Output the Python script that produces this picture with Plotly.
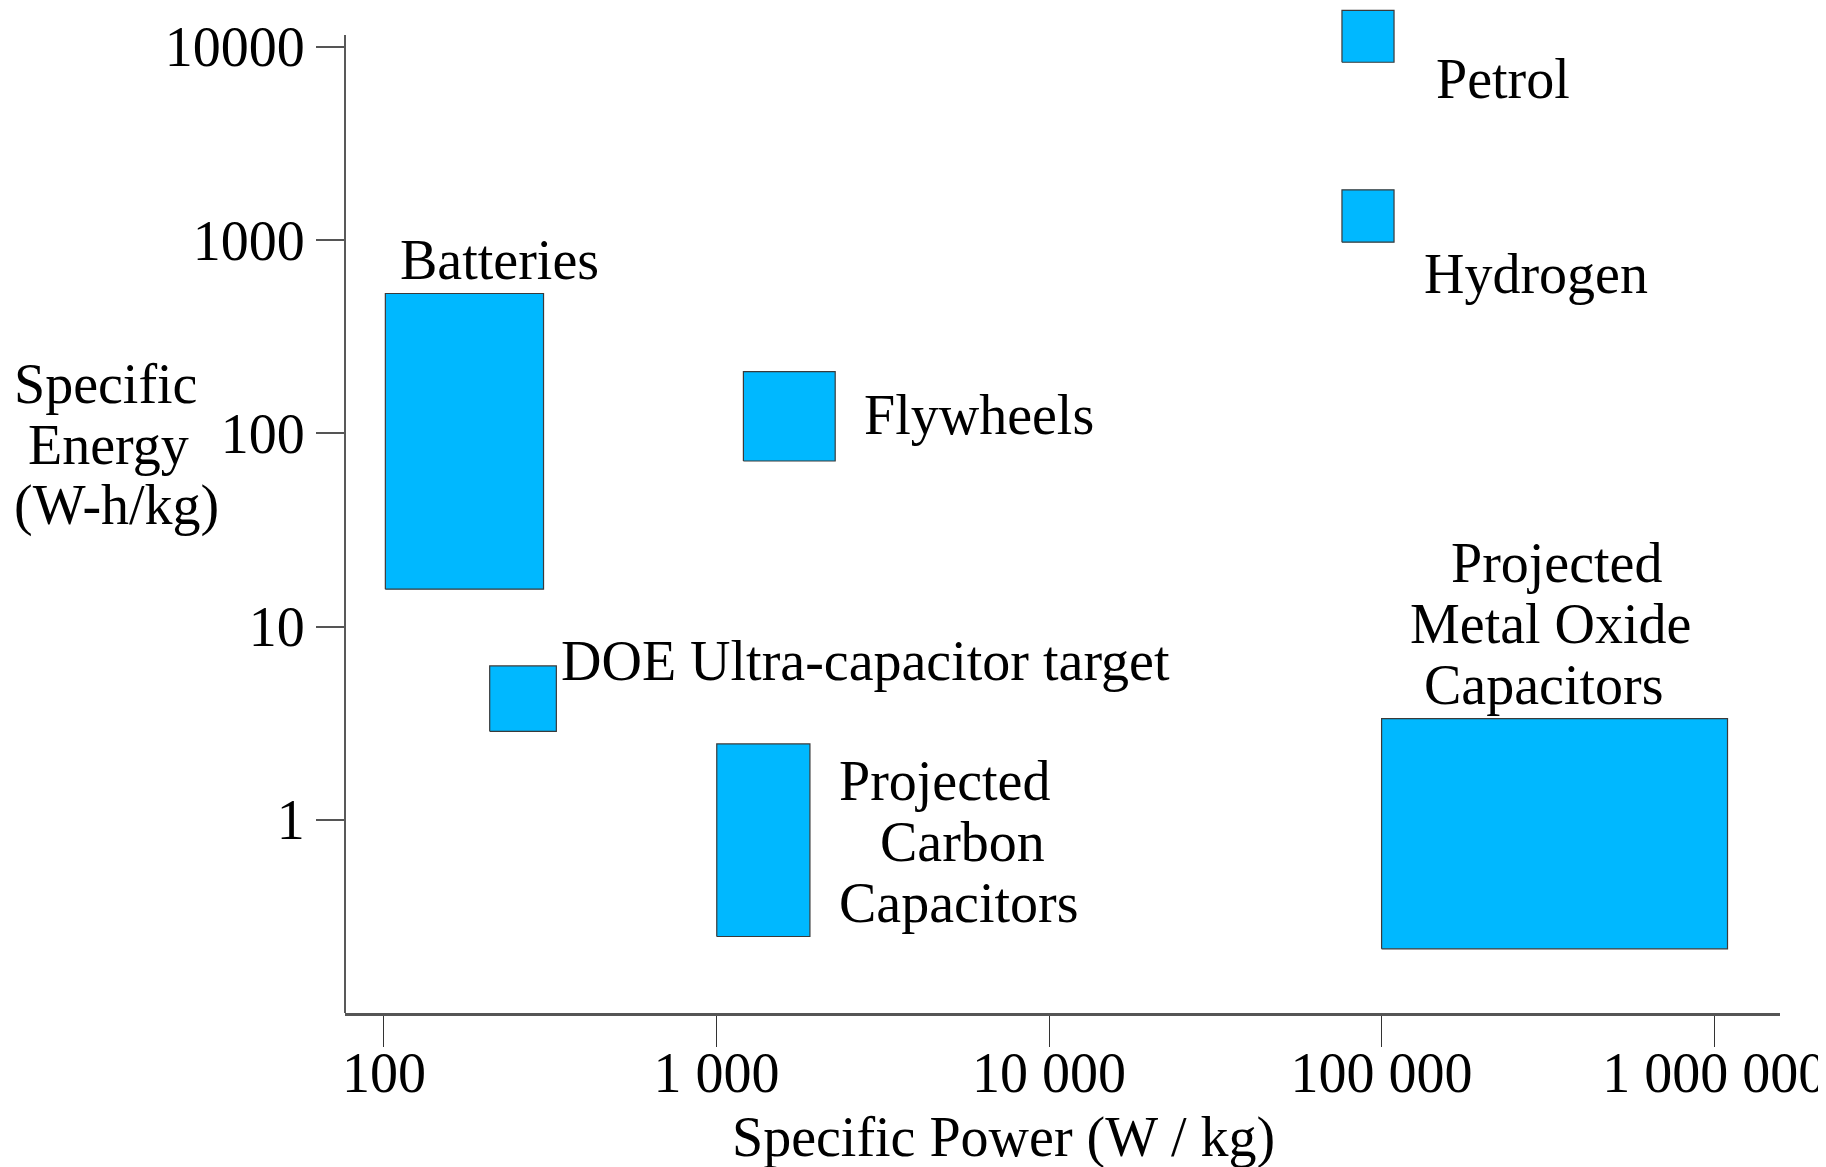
import plotly.graph_objects as go

# ---- data ----
categories = ["Batteries", "Flywheels", "DOE Ultra-capacitor target",
              "Projected Carbon Capacitors", "Projected Metal Oxide Capacitors",
              "Petrol", "Hydrogen"]
power_min = [101, 1205, 208, 1002, 100000, 76000, 76000]        # W/kg
power_max = [302, 2275, 330, 1910, 1097000, 109000, 109000]     # W/kg
energy_min = [15.6, 71.8, 2.87, 0.249, 0.215, 8300, 973]        # W-h/kg
energy_max = [528, 208, 6.25, 2.47, 3.34, 15400, 1815]          # W-h/kg

x_tickvals = [100, 1000, 10000, 100000, 1000000]
x_ticktext = ["100", "1 000", "10 000", "100 000", "1 000 000"]
y_tickvals = [1, 10, 100, 1000, 10000]
y_ticktext = ["1", "10", "100", "1000", "10000"]

# label text lines with (log10 x, log10 y) anchor positions
labels = [
    ("Batteries", 2.042, 2.894),
    ("Flywheels", 3.438, 2.094),
    ("DOE Ultra-capacitor target", 2.526, 0.822),
    ("Projected", 3.361, 0.201),
    ("Carbon", 3.487, -0.115),
    ("Capacitors", 3.361, -0.430),
    ("Projected", 5.204, 1.329),
    ("Metal Oxide", 5.078, 1.013),
    ("Capacitors", 5.120, 0.697),
    ("Petrol", 5.159, 3.834),
    ("Hydrogen", 5.120, 2.823),
]

FILL = "#00B8FF"
FONT = "Liberation Serif, Times New Roman, serif"
FS = 56

fig = go.Figure()
for name, x0, x1, y0, y1 in zip(categories, power_min, power_max, energy_min, energy_max):
    fig.add_trace(go.Scatter(
        x=[x0, x1, x1, x0, x0], y=[y0, y0, y1, y1, y0],
        mode="lines", fill="toself", fillcolor=FILL,
        line=dict(color="#3a3a3a", width=1.2),
        name=name, hoverinfo="name", showlegend=False))

annotations = []
for text, lx, ly in labels:
    annotations.append(dict(text=text, x=lx, y=ly, xref="x", yref="y",
                            xanchor="left", yanchor="middle", showarrow=False,
                            font=dict(family=FONT, size=FS, color="black")))

# axis titles
annotations.append(dict(text="Specific Power (W / kg)", x=0.4589, y=-0.1234,
                        xref="paper", yref="paper", xanchor="center", yanchor="middle",
                        showarrow=False, font=dict(family=FONT, size=FS, color="black")))
ytitle_lines = [("Specific", -0.2320, 0.6259),
                ("Energy", -0.2223, 0.5652),
                ("(W-h/kg)", -0.2320, 0.5045)]
for t, px, py in ytitle_lines:
    annotations.append(dict(text=t, x=px, y=py,
                            xref="paper", yref="paper", xanchor="left", yanchor="middle",
                            showarrow=False, font=dict(family=FONT, size=FS, color="black")))

fig.update_layout(
    width=1818, height=1159,
    margin=dict(l=337, r=44, t=0, b=154),
    plot_bgcolor="white", paper_bgcolor="white",
    annotations=annotations,
    shapes=[dict(type="line", xref="paper", yref="paper", x0=0, x1=0, y0=0,
                 y1=0.9731, line=dict(color="#222", width=1.5))],
    showlegend=False,
)
fig.update_xaxes(type="log", range=[1.883, 6.198],
                 tickvals=x_tickvals, ticktext=x_ticktext,
                 ticks="outside", ticklen=31, tickcolor="#333", tickwidth=1,
                 showline=True, linecolor="#555", linewidth=2.5,
                 showgrid=False, zeroline=False, ticklabeloverflow="allow",
                 ticklabelstandoff=-22,
                 tickfont=dict(family=FONT, size=FS, color="black"))
fig.update_yaxes(type="log", range=[-0.9995, 4.1997],
                 tickvals=y_tickvals, ticktext=y_ticktext,
                 ticks="outside", ticklen=28, tickcolor="#555", tickwidth=1.5,
                 showline=False, showgrid=False, zeroline=False,
                 tickfont=dict(family=FONT, size=FS, color="black"))

fig.write_html("out.html")
